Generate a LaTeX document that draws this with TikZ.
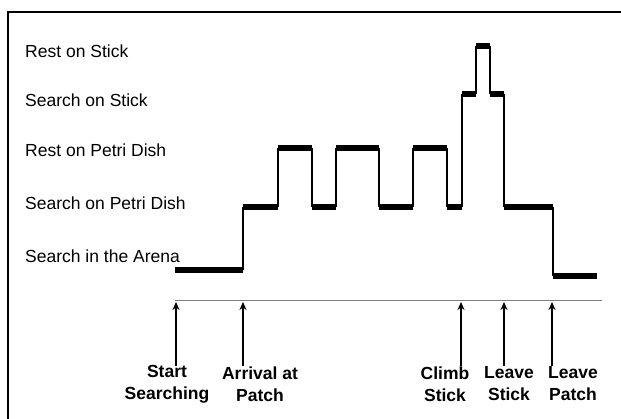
\documentclass[tikz,border=0pt]{standalone}
\usepackage{fontspec}
\setmainfont{Liberation Sans}
\usetikzlibrary{arrows.meta}
\begin{document}
\begin{tikzpicture}[x=1pt,y=-1pt,
  lvl/.style={anchor=west,inner sep=0pt,font=\fontsize{17.5}{19}\selectfont},
  evt/.style={align=center,inner sep=0pt,font=\fontsize{17.5}{22}\selectfont\bfseries},
  hseg/.style={line width=6pt},
  vseg/.style={line width=2pt},
  evarrow/.style={line width=2pt,-{Stealth[length=8pt,width=7pt]}},
  tline/.style={draw=gray,line width=1pt}]
\useasboundingbox (0,0) rectangle (621,419);
\draw[line width=2pt] (8,12) rectangle (630,430);
% level labels
\node[lvl] (l5) at (25,51) {Rest on Stick};
\node[lvl] (l4) at (25,100) {Search on Stick};
\node[lvl] (l3) at (25,150) {Rest on Petri Dish};
\node[lvl] (l2) at (25,203) {Search on Petri Dish};
\node[lvl] (l1) at (25,256) {Search in the Arena};
% step trace
\foreach \xa/\xb/\y in {175/243/270, 243/278/207, 278/312/148, 312/336/207, 336/379/148, 379/413/207, 413/447/148, 447/462/207, 462/476/94, 476/490/46, 490/504/94, 504/553/207, 553/597/276}
  \draw[hseg] (\xa,\y) -- (\xb,\y);
\foreach \x/\ya/\yb in {243/270/207, 278/207/148, 312/148/207, 336/207/148, 379/148/207, 413/207/148, 447/148/207, 462/207/94, 476/94/46, 490/46/94, 504/94/207, 553/207/276}
  \draw[vseg] (\x,\ya) -- (\x,\yb);
% timeline
\coordinate (t0) at (175,301);
\coordinate (t1) at (602,301);
\draw[tline] (t0) -- (t1);
% events
\coordinate (a1) at (176,302); \coordinate (b1) at (176,366);
\coordinate (a2) at (243,302); \coordinate (b2) at (243,366);
\coordinate (a3) at (461,302); \coordinate (b3) at (461,366);
\coordinate (a4) at (504,302); \coordinate (b4) at (504,366);
\coordinate (a5) at (552,302); \coordinate (b5) at (552,366);
\foreach \i in {1,...,5} \draw[evarrow] (b\i) -- (a\i);
\node[evt] (e1) at (167,384) {Start\\Searching};
\node[evt] (e2) at (260,384) {Arrival at\\Patch};
\node[evt] (e3) at (445,384) {Climb\\Stick};
\node[evt] (e4) at (509,384) {Leave\\Stick};
\node[evt] (e5) at (573,384) {Leave\\Patch};
\end{tikzpicture}
\end{document}
